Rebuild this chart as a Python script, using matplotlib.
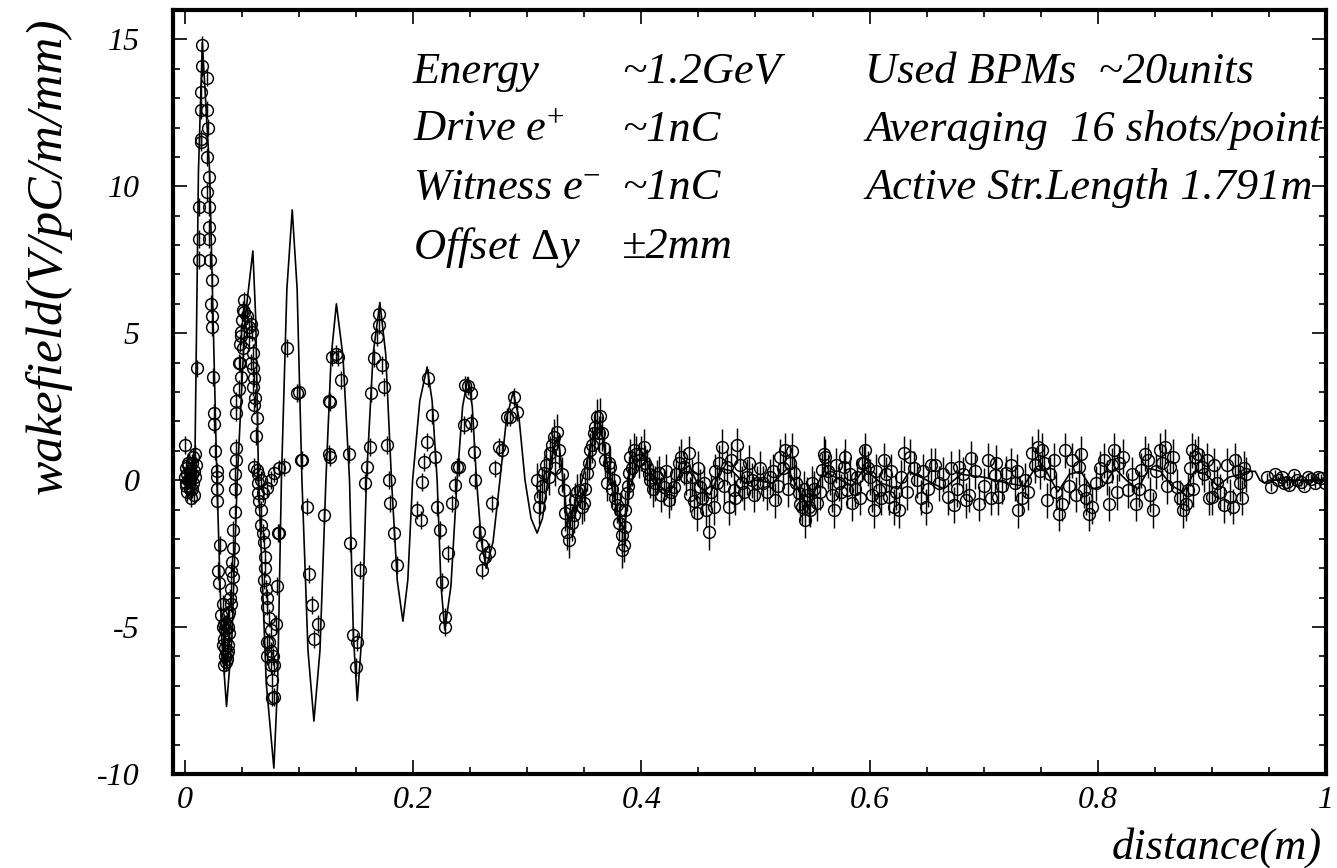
import matplotlib
matplotlib.use("Agg")
import matplotlib.pyplot as plt
from matplotlib.ticker import FixedLocator, MultipleLocator, FuncFormatter

# fitted wakefield curve (vertices)
curve_x = [
    0.000, 0.004, 0.0085, 0.0118, 0.0152, 0.0216, 0.0280, 0.0322, 0.0364, 0.0411,
    0.0458, 0.0527, 0.0595, 0.0620, 0.0645, 0.0712, 0.0779, 0.0812, 0.0845, 0.0893,
    0.0940, 0.0983, 0.1025, 0.1078, 0.1130, 0.1183, 0.1235, 0.1281, 0.1327, 0.1385,
    0.1442, 0.1476, 0.1510, 0.1550, 0.1590, 0.1649, 0.1708, 0.1759, 0.1810, 0.1860,
    0.1910, 0.1953, 0.1995, 0.2058, 0.2122, 0.2166, 0.2210, 0.2244, 0.2277, 0.2331,
    0.2385, 0.2433, 0.2480, 0.2518, 0.2555, 0.2598, 0.2640, 0.2700, 0.2760, 0.2818,
    0.2876, 0.2928, 0.2980, 0.3033, 0.3086, 0.3133, 0.3180, 0.3230, 0.3270, 0.3300,
    0.3340, 0.3370, 0.3420, 0.3480, 0.3540, 0.3600, 0.3640, 0.3690, 0.3750, 0.3810,
    0.3850, 0.3900, 0.3960, 0.4020, 0.4080, 0.4150, 0.4250, 0.4350, 0.4420, 0.4500,
    0.4600, 0.4700, 0.4800, 0.4900, 0.5000, 0.5150, 0.5280, 0.5400, 0.5480, 0.5600,
    0.5700, 0.5850, 0.5950, 0.6100, 0.6250, 0.6350, 0.6500, 0.6650, 0.6800, 0.7000,
    0.7200, 0.7350, 0.7450, 0.7550, 0.7650, 0.7750, 0.7850, 0.7950, 0.8050, 0.8150,
    0.8250, 0.8350, 0.8450, 0.8550, 0.8650, 0.8750, 0.8850, 0.8950, 0.9050, 0.9150,
    0.9250, 0.9320, 0.9380, 0.9420, 0.9460, 0.9500, 0.9700, 1.0000,
]
curve_y = [
    0.0, 0.05, 0.0, 10.5, 14.9, 10.5, 0.0, -5.4, -7.7, -5.4,
    0.0, 5.5, 7.8, 5.5, 0.0, -6.9, -9.8, -6.9, 0.0, 6.5,
    9.2, 6.5, 0.0, -5.8, -8.2, -5.8, 0.0, 4.2, 6.0, 4.2,
    0.0, -5.3, -7.5, -5.3, 0.0, 4.3, 6.05, 4.3, 0.0, -3.4,
    -4.8, -3.4, 0.0, 2.7, 3.85, 2.7, 0.0, -3.6, -5.1, -3.6,
    0.0, 2.5, 3.5, 2.5, 0.0, -2.1, -3.0, -2.1, 0.0, 2.1,
    3.0, 2.1, 0.0, -1.3, -1.8, -1.3, 0.0, 1.1, 1.5, 0.5,
    -1.0, -1.5, -0.8, 0.0, 0.9, 1.7, 1.8, 0.8, -0.4, -1.5,
    -1.6, -0.3, 0.6, 0.9, 0.3, -0.2, -0.4, 0.3, 0.5, -0.2,
    -0.5, 0.4, 0.3, -0.1, 0.0, -0.1, 0.4, -0.5, -0.6, 0.3,
    0.1, -0.2, 0.4, -0.1, -0.3, 0.3, 0.0, -0.3, 0.2, 0.1,
    -0.1, -0.2, 0.4, 0.3, -0.4, 0.2, 0.3, -0.3, -0.2, 0.4,
    0.0, -0.3, 0.4, 0.3, -0.2, -0.4, 0.3, 0.2, -0.2, 0.1,
    0.2, 0.3, 0.3, 0.0, -0.1, 0.0, 0.0, 0.0,
]

# measured points, strong-oscillation part
dist_early = [
    0.000, 0.000, 0.001, 0.001, 0.002, 0.002, 0.003, 0.003, 0.004, 0.004,
    0.005, 0.005, 0.006, 0.006, 0.007, 0.007, 0.008, 0.008, 0.009, 0.010,
    0.0005, 0.0025, 0.0045, 0.0065, 0.0085,
    0.0108, 0.0122, 0.0122, 0.0122, 0.0137, 0.0137, 0.0137, 0.0137, 0.0152, 0.0145,
    0.0195, 0.0195, 0.0190, 0.0209, 0.0195, 0.0209, 0.0209, 0.0209, 0.0233, 0.0233,
    0.0233, 0.0244, 0.0253, 0.0253, 0.0283, 0.0280, 0.0280, 0.0283, 0.0306, 0.0290,
    0.0200, 0.0215, 0.0225, 0.0262,
    0.0295, 0.0330, 0.0345, 0.0345, 0.0350, 0.0360, 0.0355, 0.0370, 0.0375, 0.0380,
    0.0400, 0.0400, 0.0400, 0.0425, 0.0425, 0.0437, 0.0437, 0.0437, 0.0443, 0.0450,
    0.0450, 0.0450, 0.0330, 0.0345, 0.0375, 0.0385, 0.0390,
    0.0320, 0.0335, 0.0350, 0.0365, 0.0380, 0.0360, 0.0395, 0.0410, 0.0418,
    0.0482, 0.0482, 0.0490, 0.0500, 0.0516, 0.0520, 0.0490, 0.0575, 0.0590, 0.0600,
    0.0605, 0.0600, 0.0604, 0.0633, 0.0633, 0.0640, 0.0640, 0.0665, 0.0665, 0.0695,
    0.0705, 0.0705, 0.0723, 0.0723, 0.0752, 0.0755, 0.0750, 0.0765, 0.0780, 0.0780,
    0.0720, 0.0720,
    0.0470, 0.0476, 0.0495, 0.0505, 0.0510, 0.0545, 0.0560, 0.0565, 0.0580, 0.0595,
    0.0612, 0.0620, 0.0648, 0.0680, 0.0690, 0.0712, 0.0735, 0.0740, 0.0760, 0.0770,
    0.0604, 0.0640, 0.0670, 0.0720, 0.0750, 0.0780, 0.0820, 0.0870, 0.0680,
    0.0794, 0.0808, 0.0817, 0.0823, 0.0890, 0.0998, 0.0983, 0.1027, 0.1020, 0.1070,
    0.1086, 0.1115, 0.1130, 0.1170, 0.1217, 0.1260, 0.1260,
    0.1275, 0.1270, 0.1290, 0.1320, 0.1345, 0.1363, 0.1436, 0.1450, 0.1474, 0.1510,
    0.1495, 0.1532, 0.1580, 0.1597, 0.1620, 0.1626, 0.1660, 0.1685, 0.1700, 0.1700,
    0.1728, 0.1743, 0.1772, 0.1786, 0.1800, 0.1830, 0.1860,
    0.2035, 0.2065, 0.2080, 0.2093, 0.2117, 0.2128, 0.2166, 0.2195, 0.2210, 0.2233,
    0.2254, 0.2283, 0.2283, 0.2303, 0.2341, 0.2370, 0.2385, 0.2404, 0.2443, 0.2458,
    0.2478, 0.2510, 0.2507, 0.2530, 0.2546, 0.2575, 0.2604, 0.2633, 0.2604, 0.2662,
    0.2692, 0.2721, 0.2750, 0.2780, 0.2823, 0.2852, 0.2881, 0.2910,
]
wake_early = [
    1.2, 0.1, -0.2, 0.4, 0.2, -0.4, 0.5, 0.0, -0.3, 0.3,
    0.1, -0.6, 0.6, 0.2, -0.1, 0.8, 0.3, -0.5, 0.9, 0.5,
    -0.1, 0.6, 0.0, -0.3, 0.1,
    3.8, 7.5, 8.2, 9.3, 11.6, 11.5, 12.6, 13.2, 14.8, 14.1,
    13.7, 12.6, 11.0, 10.3, 9.8, 9.3, 8.6, 8.2, 6.8, 5.6,
    5.2, 3.5, 2.3, 1.9, 0.3, 0.1, -0.3, -0.7, -2.2, -3.1,
    12.0, 7.5, 6.0, 1.0,
    -3.5, -4.2, -4.9, -5.4, -6.0, -6.2, -5.7, -6.1, -5.0, -4.6,
    -4.2, -3.7, -3.1, -2.3, -1.7, -1.1, -0.3, 0.2, 0.7, 1.1,
    2.3, 2.7, -5.0, -6.3, -5.6, -5.2, -4.5,
    -4.6, -5.6, -5.1, -5.9, -5.8, -4.9, -4.0, -2.8, -3.3,
    4.65, 3.97, 3.5, 5.44, 6.12, 5.72, 5.04, 5.33, 5.04, 4.32,
    3.47, 3.17, 2.55, 2.1, 0.34, -0.1, -0.45, -1.02, -1.53, -2.1,
    -2.6, -3.0, -4.0, -4.3, -5.1, -5.8, -6.3, -7.4, -7.37, -6.3,
    -5.5, -6.0,
    3.1, 4.0, 4.9, 5.8, 4.5, 5.6, 5.2, 4.7, 4.0, 3.8,
    2.8, 1.5, -0.7, -1.8, -3.4, -3.7, -4.7, -5.5, -6.8, -6.0,
    0.45, 0.2, 0.0, -0.27, 0.0, 0.23, 0.4, 0.45, -0.45,
    -4.9, -3.6, -1.8, -1.8, 4.5, 3.0, 2.96, 0.68, 0.7, -0.9,
    -3.2, -4.25, -5.4, -4.9, -1.2, 0.9, 2.7,
    2.66, 0.79, 4.2, 4.3, 4.2, 3.4, 0.9, -2.15, -5.27, -5.5,
    -6.35, -3.06, -0.1, 0.45, 1.13, 2.96, 4.15, 4.87, 5.27, 5.67,
    3.91, 3.17, 1.19, 0.0, -0.79, -1.81, -2.89,
    -1.02, -1.36, -0.06, 0.62, 1.3, 3.47, 2.21, 0.79, -0.91, -1.7,
    -3.46, -4.65, -5.0, -2.49, -0.79, -0.17, 0.45, 0.45, 1.87, 3.23,
    3.2, 2.96, 1.94, 0.96, 0.0, -1.76, -2.21, -2.6, -3.06, -2.44,
    -0.79, 0.4, 1.13, 1.02, 2.15, 2.15, 2.83, 2.32,
]

# measured points, noisy part
dist_late = [
    0.3086, 0.3115, 0.3144, 0.3188, 0.3200, 0.3232, 0.3260, 0.3275, 0.3320, 0.3334,
    0.3349, 0.3363, 0.3393, 0.3422, 0.3465, 0.3494, 0.3524, 0.3553, 0.3582, 0.3611,
    0.3640, 0.3655, 0.3684, 0.3700, 0.3728, 0.3757, 0.3786, 0.3800, 0.3830, 0.3830,
    0.3845, 0.3860, 0.3874, 0.3890, 0.3903, 0.3932, 0.3976, 0.4020, 0.4050, 0.4078,
    0.4122, 0.4150, 0.4195, 0.4239, 0.4283, 0.4326, 0.4370, 0.4414, 0.4443, 0.4487,
    0.4516, 0.4545, 0.4589, 0.4633, 0.4662, 0.4706, 0.4750, 0.4764, 0.4808, 0.4838,
    0.4881, 0.4925, 0.4969, 0.5013, 0.5070, 0.5128, 0.5173, 0.5216, 0.5261, 0.5305,
    0.5334, 0.5378, 0.5407, 0.5436, 0.5466, 0.5495, 0.5539, 0.5583, 0.5612, 0.5656,
    0.5684, 0.5729, 0.5773, 0.5802, 0.5846, 0.5890, 0.5934, 0.5963, 0.6007, 0.6037,
    0.6081, 0.6125, 0.6168, 0.6212, 0.6256, 0.6300, 0.6358, 0.6417,
    0.6491, 0.6535, 0.6609, 0.6683, 0.6742, 0.6786, 0.6845, 0.6889, 0.6963, 0.7037,
    0.7096, 0.7125, 0.7199, 0.7273, 0.7303, 0.7362, 0.7421, 0.7480, 0.7509, 0.7554,
    0.7613, 0.7657, 0.7716, 0.7775, 0.7834, 0.7878, 0.7922, 0.7981, 0.8055, 0.8100,
    0.8144, 0.8188, 0.8262, 0.8336, 0.8380, 0.8439, 0.8483, 0.8542, 0.8587, 0.8631,
    0.8690, 0.8749, 0.8793, 0.8822, 0.8852, 0.8911, 0.8955, 0.8999, 0.9044, 0.9103,
    0.9162, 0.9206, 0.9250, 0.9280,
    # second pass, points in between
    0.3100, 0.3130, 0.3166, 0.3216, 0.3246, 0.3300, 0.3378, 0.3408, 0.3440, 0.3480,
    0.3510, 0.3540, 0.3568, 0.3596, 0.3625, 0.3670, 0.3715, 0.3742, 0.3772, 0.3815,
    0.3852, 0.3882, 0.3918, 0.3955,
    0.4000, 0.4035, 0.4065, 0.4100, 0.4135, 0.4170, 0.4215, 0.4260, 0.4305, 0.4348,
    0.4392, 0.4428, 0.4465, 0.4500, 0.4530, 0.4567, 0.4610, 0.4648, 0.4684, 0.4728,
    0.4786, 0.4823, 0.4860, 0.4903, 0.4947, 0.4991, 0.5040, 0.5100, 0.5150, 0.5195,
    0.5238, 0.5283, 0.5320, 0.5356, 0.5392, 0.5421, 0.5451, 0.5480, 0.5517, 0.5561,
    0.5597, 0.5634, 0.5670, 0.5706, 0.5751, 0.5788, 0.5824, 0.5868, 0.5912, 0.5949,
    0.5985, 0.6022, 0.6059, 0.6103, 0.6146, 0.6190, 0.6234, 0.6278, 0.6329, 0.6387,
    0.6450, 0.6470, 0.6513, 0.6572, 0.6646, 0.6712, 0.6764, 0.6815, 0.6867, 0.6926,
    0.7000, 0.7066, 0.7110, 0.7162, 0.7236, 0.7288, 0.7332, 0.7392, 0.7450, 0.7495,
    0.7530, 0.7583, 0.7635, 0.7686, 0.7745, 0.7805, 0.7856, 0.7900, 0.7952, 0.8018,
    0.8077, 0.8122, 0.8166, 0.8225, 0.8299, 0.8358, 0.8410, 0.8461, 0.8513, 0.8565,
    0.8609, 0.8660, 0.8720, 0.8771, 0.8808, 0.8837, 0.8882, 0.8933, 0.8977, 0.9022,
    0.9073, 0.9132, 0.9184, 0.9228, 0.9265, 0.9300,
]
wake_late = [
    0.0, -0.57, 0.23, 0.11, 0.91, 1.47, 1.64, 1.02, -0.34, -1.13,
    -1.76, -2.04, -1.47, -0.68, -0.34, -0.79, 0.23, 1.02, 1.59, 2.15,
    2.2, 1.59, 0.68, -0.11, 0.45, 0.0, -0.85, -1.47, -1.87, -2.38,
    -2.2, -1.02, -0.45, 0.23, 0.79, 1.02, 0.68, 1.13, 0.45, 0.0,
    -0.11, 0.23, -0.23, -0.68, -0.23, 0.57, 0.45, 0.91, 0.11, -1.13,
    -0.23, -0.11, -1.76, -0.91, -0.11, 1.13, 0.45, -0.91, -0.34, 1.19,
    -0.11, 0.11, 0.0, -0.11, -0.11, 0.11, -0.68, 0.79, 1.02, 0.57,
    0.23, -0.45, -0.91, -1.36, -0.91, -0.11, -0.79, 0.34, 0.79, 0.11,
    -1.02, -0.11, 0.45, -0.34, -0.79, 0.11, 0.57, 1.02, 0.11, -1.02,
    -0.34, 0.68, -0.57, -0.91, -1.02, 0.91, 0.79, 0.0,
    -0.91, 0.51, -0.11, -0.57, -0.85, 0.45, -0.68, 0.74, -0.8, 0.68,
    0.17, -0.57, 0.23, -0.11, -1.02, 0.0, 0.91, 1.14, 1.02, -0.68,
    0.68, -1.14, 1.02, 0.68, 0.45, -0.34, -1.14, -0.11, 0.68, -0.8,
    1.02, 0.57, -0.34, -0.8, 0.34, 0.68, -1.02, 1.02, 1.14, 0.45,
    -0.23, -1.02, -0.34, 1.02, 0.8, 0.45, 0.68, -0.57, -0.11, -0.85,
    -0.57, 0.68, -0.11, 0.4,
    -0.9, -0.2, 0.5, 1.2, 0.4, 0.2, -1.0, -1.2, -0.4, -0.9,
    -0.3, 0.6, 1.2, 1.8, 1.6, 1.1, 0.6, -0.3, -0.6, -1.0,
    -1.6, -0.2, 0.4, 0.9,
    0.9, 0.6, 0.2, -0.3, 0.1, -0.5, 0.3, -0.4, 0.2, 0.8,
    0.1, -0.5, -0.7, 0.4, -0.6, -1.0, -0.4, 0.3, 0.6, -0.2,
    0.7, -0.6, 0.5, -0.4, 0.6, -0.5, 0.4, -0.4, 0.3, -0.2,
    0.4, -0.3, 1.0, -0.1, -0.8, -0.3, -0.5, -1.0, -0.3, -0.4,
    0.9, 0.3, -0.5, 0.5, -0.4, 0.8, 0.2, -0.3, -0.6, 0.6,
    0.4, -0.5, 0.3, -0.6, 0.2, 0.3, -0.4, 0.1, -0.4, 0.4,
    -0.6, 0.3, -0.3, 0.5, 0.2, 0.4, -0.3, 0.2, -0.5, 0.3,
    -0.2, -0.6, 0.6, -0.2, 0.5, 0.3, -0.6, -0.4, 0.5, 0.3,
    0.6, 0.2, -0.4, -0.8, -0.2, -0.5, 0.9, -0.6, -0.9, 0.4,
    0.1, 0.5, -0.4, 0.8, 0.2, -0.3, 0.9, -0.5, 0.3, 0.6,
    -0.2, 0.8, -0.6, -0.8, 0.4, -0.3, 0.9, 0.2, -0.6, 0.5,
    -0.4, 0.5, -0.9, 0.3, -0.6, 0.2,
]

# measured points, quiet tail
dist_tail = [
    0.9486, 0.9516, 0.9550, 0.9575, 0.9610, 0.9634, 0.9660, 0.9678, 0.9723, 0.9750,
    0.9782, 0.9810, 0.9841, 0.9870, 0.9900, 0.9930, 0.9959, 0.9990,
]
wake_tail = [
    0.11, -0.23, 0.2, 0.0, 0.1, -0.11, -0.05, -0.17, 0.17, 0.0,
    -0.06, -0.2, 0.11, 0.05, -0.11, 0.1, 0.06, -0.1,
]

err_early = 0.3
err_late = 0.6
err_tail = 0.15

x_ticks = [0, 0.2, 0.4, 0.6, 0.8, 1.0]
y_ticks = [-10, -5, 0, 5, 10, 15]

info_rows = [
    ("Energy", "~1.2GeV", "Used BPMs  ~20units"),
    ("Drive e$^{+}$", "~1nC", "Averaging  16 shots/point"),
    ("Witness e$^{-}$", "~1nC", "Active Str.Length 1.791m"),
    ("Offset $\\Delta$y", "\u00b12mm", ""),
]

FONT = "Liberation Serif"


def _fmt(v, pos):
    if abs(v - round(v)) < 1e-9:
        return f"{int(round(v))}"
    return f"{v:g}"


def main() -> None:
    plt.rcParams["axes.unicode_minus"] = False
    plt.rcParams["mathtext.fontset"] = "custom"
    plt.rcParams["mathtext.rm"] = FONT
    plt.rcParams["mathtext.it"] = f"{FONT}:italic"

    W, H = 1337, 868
    fig = plt.figure(figsize=(W / 100, H / 100), dpi=100)
    ax = fig.add_axes([173 / W, 1 - 774 / H, (1326 - 173) / W, (774 - 10) / H])

    ax.plot(curve_x, curve_y, color="black", linewidth=1.2, zorder=2)

    for xs, ys, e in [(dist_early, wake_early, err_early),
                      (dist_late, wake_late, err_late),
                      (dist_tail, wake_tail, err_tail)]:
        ax.errorbar(xs, ys, yerr=e, fmt="o", mfc="none", mec="black", ms=8.5, mew=1.05,
                    ecolor="black", elinewidth=1.05, capsize=0, zorder=3)

    ax.set_xlim(-0.0105, 1.0)
    ax.set_ylim(-10, 16)
    ax.xaxis.set_major_locator(FixedLocator(x_ticks))
    ax.xaxis.set_minor_locator(MultipleLocator(0.05))
    ax.yaxis.set_major_locator(FixedLocator(y_ticks))
    ax.yaxis.set_minor_locator(MultipleLocator(1))
    ax.xaxis.set_major_formatter(FuncFormatter(_fmt))
    ax.yaxis.set_major_formatter(FuncFormatter(_fmt))
    ax.tick_params(which="both", direction="in", top=True, right=True, width=1.2)
    ax.tick_params(which="major", length=10)
    ax.tick_params(which="minor", length=5)
    ax.tick_params(axis="x", which="major", pad=9)
    ax.tick_params(axis="y", which="major", pad=24)
    for lab in ax.get_xticklabels() + ax.get_yticklabels():
        lab.set_fontfamily(FONT)
        lab.set_fontstyle("italic")
        lab.set_fontsize(23)
    for sp in ax.spines.values():
        sp.set_linewidth(3)

    tkw = dict(fontfamily=FONT, fontstyle="italic", fontsize=32, va="center", ha="left")
    cols = [413, 622, 865]
    rows = [72, 130, 188, 247]
    for r, row in zip(rows, info_rows):
        for c, txt in zip(cols, row):
            if txt:
                fig.text(c / W, 1 - r / H, txt, **tkw)

    fig.text(48 / W, 1 - 18 / H, "wakefield(V/pC/m/mm)", rotation=90, ha="center", va="top",
             fontfamily=FONT, fontstyle="italic", fontsize=37)
    fig.text(1322 / W, 1 - 848 / H, "distance(m)", ha="right", va="center",
             fontfamily=FONT, fontstyle="italic", fontsize=32)

    fig.savefig("out.png", dpi=100)
    plt.close(fig)


if __name__ == "__main__":
    main()
